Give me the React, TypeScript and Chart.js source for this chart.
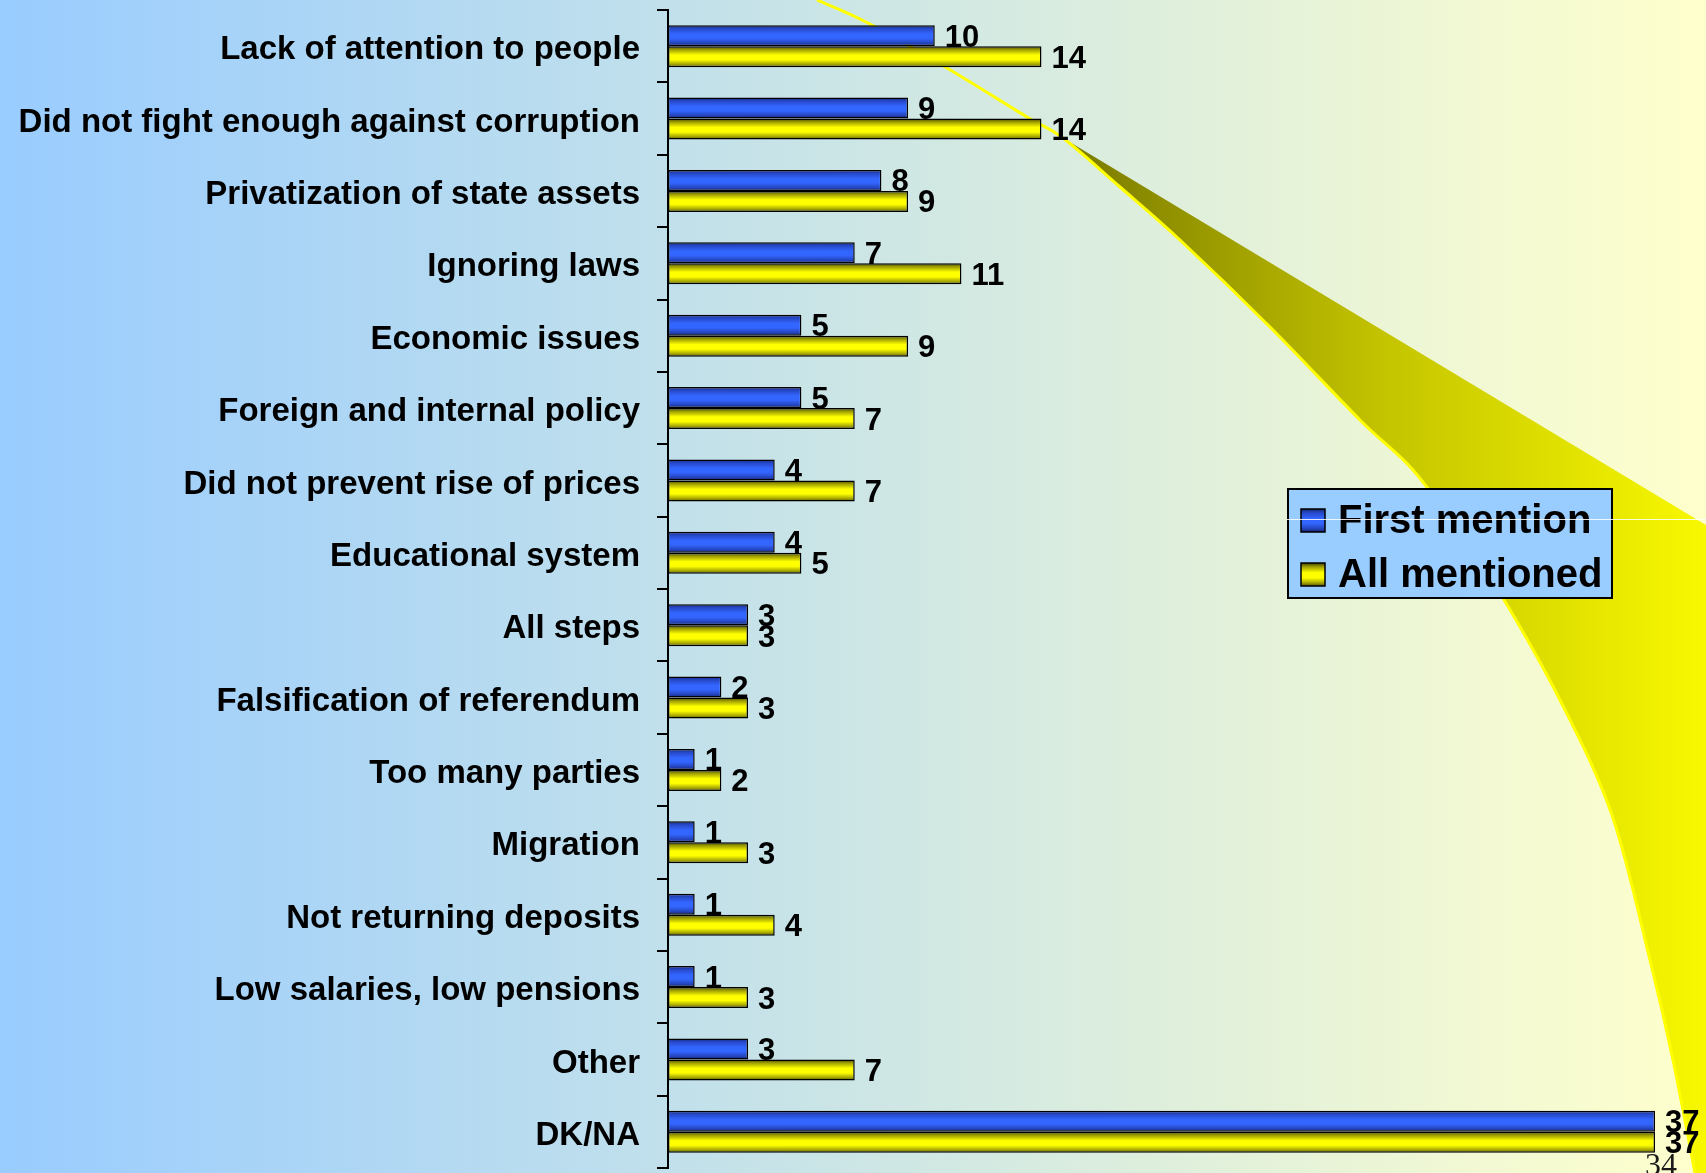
import React, { useEffect, useRef } from "react";
import { Chart, registerables } from "chart.js";

Chart.register(...registerables);

// ---------------- data ----------------
const categories = [
  "Lack of attention to people",
  "Did not fight enough against corruption",
  "Privatization of state assets",
  "Ignoring laws",
  "Economic issues",
  "Foreign and internal policy",
  "Did not prevent rise of prices",
  "Educational system",
  "All steps",
  "Falsification of referendum",
  "Too many parties",
  "Migration",
  "Not returning deposits",
  "Low salaries, low pensions",
  "Other",
  "DK/NA",
];
const firstMention = [10, 9, 8, 7, 5, 5, 4, 4, 3, 2, 1, 1, 1, 1, 3, 37];
const allMentioned = [14, 14, 9, 11, 9, 7, 7, 5, 3, 3, 2, 3, 4, 3, 7, 37];
const seriesNames = ["First mention", "All mentioned"];
const xMin = 0;
const xMax = 37;
const pageNumber = "34";

// ---------------- styles ----------------
const W = 1706;
const H = 1173;
const SANS = '"Liberation Sans", Arial, Helvetica, sans-serif';
const SERIF = '"Liberation Serif", "Times New Roman", serif';
const CAT_PCT = 0.58;

type Stop = [number, string];
const BLUE_STOPS: Stop[] = [
  [0, "#15266f"],
  [0.15, "#2546c4"],
  [0.42, "#3366ff"],
  [0.62, "#3366ff"],
  [0.86, "#2443bb"],
  [1, "#132266"],
];
const YELLOW_STOPS: Stop[] = [
  [0, "#3f3f00"],
  [0.16, "#9c9c00"],
  [0.42, "#ffff00"],
  [0.64, "#ffff00"],
  [0.86, "#a6a600"],
  [1, "#545400"],
];
const SERIES_STOPS = [BLUE_STOPS, YELLOW_STOPS];
const SERIES_FLAT = ["#3366ff", "#ffff00"];

function vGrad(c: CanvasRenderingContext2D, top: number, h: number, stops: Stop[]) {
  const g = c.createLinearGradient(0, top, 0, top + h);
  stops.forEach(([o, col]) => g.addColorStop(o, col));
  return g;
}

function barFill(di: number) {
  return (ctx: any) => {
    const chart = ctx.chart;
    const y = chart.scales && chart.scales.y;
    if (!y || ctx.type !== "data" || ctx.dataIndex == null) return SERIES_FLAT[di];
    const band = (y.bottom - y.top) / categories.length;
    const bh = (band * CAT_PCT) / 2;
    const yc = y.getPixelForValue(ctx.dataIndex);
    const top = di === 0 ? yc - bh : yc;
    if (!isFinite(top) || !isFinite(bh) || bh <= 0) return SERIES_FLAT[di];
    return vGrad(chart.ctx, top, bh, SERIES_STOPS[di]);
  };
}

// decorative swoosh (slide background)
const SWOOSH: [number, number][] = [
  [817, 0],
  [868, 23],
  [947, 68],
  [1027, 117],
  [1063, 138],
  [1120, 187],
  [1180, 240],
  [1270, 327],
  [1360, 420],
  [1413, 470],
  [1460, 533],
  [1503, 598],
  [1560, 700],
  [1612, 815],
  [1650, 960],
  [1673, 1060],
  [1695, 1173],
];
const BAND_START = 4;

function smoothPath(c: CanvasRenderingContext2D, pts: [number, number][], move: boolean) {
  if (move) c.moveTo(pts[0][0], pts[0][1]);
  else c.lineTo(pts[0][0], pts[0][1]);
  for (let i = 0; i < pts.length - 1; i++) {
    const p0 = pts[i - 1] || pts[i];
    const p1 = pts[i];
    const p2 = pts[i + 1];
    const p3 = pts[i + 2] || p2;
    c.bezierCurveTo(
      p1[0] + (p2[0] - p0[0]) / 6,
      p1[1] + (p2[1] - p0[1]) / 6,
      p2[0] - (p3[0] - p1[0]) / 6,
      p2[1] - (p3[1] - p1[1]) / 6,
      p2[0],
      p2[1]
    );
  }
}

const decorPlugin = {
  id: "decor",
  beforeDraw(chart: any) {
    const c: CanvasRenderingContext2D = chart.ctx;
    const w = chart.width;
    const h = chart.height;
    c.save();
    const bg = c.createLinearGradient(0, 0, w, 0);
    bg.addColorStop(0, "#99ccff");
    bg.addColorStop(1, "#ffffcc");
    c.fillStyle = bg;
    c.fillRect(0, 0, w, h);

    // band
    const band = SWOOSH.slice(BAND_START);
    c.beginPath();
    smoothPath(c, band, true);
    c.lineTo(w, h);
    c.lineTo(w, 525);
    c.closePath();
    const bg2 = c.createLinearGradient(band[0][0], 0, w, 0);
    bg2.addColorStop(0, "#787800");
    bg2.addColorStop(0.5, "#c4c400");
    bg2.addColorStop(1, "#f8f800");
    c.fillStyle = bg2;
    c.fill();

    // thin bright edge line
    c.beginPath();
    smoothPath(c, SWOOSH, true);
    c.strokeStyle = "#ffff00";
    c.lineWidth = 3;
    c.stroke();

    // slide number
    c.fillStyle = "#1a1a1a";
    c.font = `32px ${SERIF}`;
    c.textAlign = "left";
    c.textBaseline = "alphabetic";
    c.fillText(pageNumber, 1645, 1175);
    c.restore();
  },
  afterDatasetsDraw(chart: any) {
    const c: CanvasRenderingContext2D = chart.ctx;
    c.save();
    c.fillStyle = "#000";
    c.font = `bold 31px ${SANS}`;
    c.textAlign = "left";
    c.textBaseline = "alphabetic";
    chart.data.datasets.forEach((ds: any, di: number) => {
      const meta = chart.getDatasetMeta(di);
      meta.data.forEach((el: any, i: number) => {
        const p = el.getProps(["x", "y"], true);
        c.fillText(String(ds.data[i]), p.x + 10, p.y + 11);
      });
    });
    c.restore();
  },
  afterDraw(chart: any) {
    const c: CanvasRenderingContext2D = chart.ctx;
    c.save();
    // legend box
    const bx = 1288, by = 489, bw = 324, bh = 109;
    c.fillStyle = "#99ccff";
    c.fillRect(bx, by, bw, bh);
    c.strokeStyle = "#000";
    c.lineWidth = 2;
    c.strokeRect(bx, by, bw, bh);
    const rows = [
      { sq: 509, base: 533 },
      { sq: 563, base: 587 },
    ];
    chart.data.datasets.forEach((ds: any, di: number) => {
      const r = rows[di];
      c.fillStyle = vGrad(c, r.sq, 23, SERIES_STOPS[di]);
      c.fillRect(1301, r.sq, 24, 23);
      c.strokeStyle = "#000";
      c.lineWidth = 1.5;
      c.strokeRect(1301, r.sq, 24, 23);
      c.fillStyle = "#000";
      c.font = `bold 40px ${SANS}`;
      c.textAlign = "left";
      c.textBaseline = "alphabetic";
      c.fillText(ds.label, 1338, r.base);
    });
    // faint white scan line
    c.strokeStyle = "rgba(255,255,255,0.85)";
    c.lineWidth = 1;
    c.beginPath();
    c.moveTo(1287, 519.5);
    c.lineTo(chart.width, 519.5);
    c.stroke();
    c.restore();
  },
};

export default function App() {
  const ref = useRef<HTMLCanvasElement | null>(null);
  useEffect(() => {
    if (!ref.current) return;
    const chart = new Chart(ref.current, {
      type: "bar",
      data: {
        labels: categories,
        datasets: [
          {
            label: seriesNames[0],
            data: firstMention,
            backgroundColor: barFill(0),
            borderColor: "#000",
            borderWidth: 1.5,
            borderSkipped: false,
          },
          {
            label: seriesNames[1],
            data: allMentioned,
            backgroundColor: barFill(1),
            borderColor: "#000",
            borderWidth: 1.5,
            borderSkipped: false,
          },
        ],
      },
      options: {
        indexAxis: "y",
        responsive: false,
        animation: false,
        layout: { padding: { left: 0, right: 51, top: 10, bottom: 5 } },
        datasets: { bar: { categoryPercentage: CAT_PCT, barPercentage: 1 } },
        plugins: { legend: { display: false }, tooltip: { enabled: false } },
        scales: {
          x: { display: false, min: xMin, max: xMax },
          y: {
            afterFit: (s: any) => {
              s.width = 668;
              s.paddingTop = 0;
              s.paddingBottom = 0;
            },
            grid: {
              drawOnChartArea: false,
              drawTicks: true,
              tickLength: 11,
              color: "#000",
              lineWidth: 2,
              offset: true,
            },
            border: { display: true, color: "#000", width: 2 },
            ticks: {
              color: "#000",
              autoSkip: false,
              padding: 17,
              labelOffset: 4,
              font: { family: SANS, size: 33, weight: "bold" },
            },
          },
        },
      } as any,
      plugins: [decorPlugin],
    });
    return () => chart.destroy();
  }, []);
  return (
    <div style={{ position: "absolute", left: 0, top: 0, width: W, height: H, overflow: "hidden" }}>
      <canvas ref={ref} width={W} height={H} style={{ display: "block", width: W, height: H }} />
    </div>
  );
}
